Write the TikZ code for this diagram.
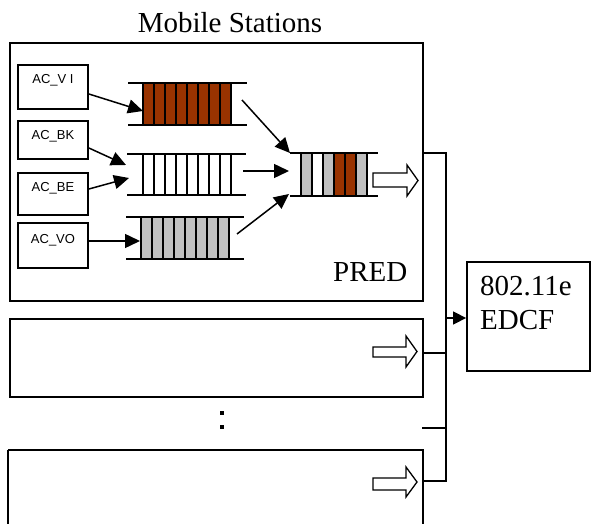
\documentclass[tikz,border=0pt]{standalone}
\usepackage{fontspec}
\setmainfont{Liberation Serif}
\newfontfamily\arialfont{Liberation Sans}
\usetikzlibrary{arrows.meta}
\definecolor{qbrown}{HTML}{993300}
\definecolor{qgray}{HTML}{C0C0C0}
\begin{document}
\begin{tikzpicture}[x=1pt,y=-1pt,
  bigbox/.style={draw,line width=1.8pt},
  acbox/.style={draw,line width=1.8pt,minimum width=70pt,minimum height=44pt,inner sep=0pt},
  aclabel/.style={font=\arialfont\fontsize{13pt}{13pt}\selectfont,anchor=base,inner sep=0pt},
  title/.style={font=\fontsize{29pt}{29pt}\selectfont,inner sep=0pt},
  qline/.style={line width=1.8pt},
  cell/.style={draw,line width=1.7pt},
  flow/.style={line width=1.5pt,-{Triangle[length=15pt,width=14pt]}},
  bus/.style={line width=1.5pt},
  blockarrow/.style={draw,line width=1.3pt,fill=white,line join=miter}
]
\useasboundingbox (0,0) rectangle (592,524);

% title
\node[title,anchor=base] (ttl) at (230,33) {Mobile Stations};

% big boxes
\draw[bigbox] (10,43) rectangle (423,301);
\draw[bigbox] (10,319) rectangle (423,397);
\draw[bigbox] (8,450) -- (423,450) -- (423,526);
\draw[bigbox] (8,526) -- (8,450);
\node[title,anchor=base west] (pred) at (333,281) {PRED};

% AC boxes
\node[acbox] (vi) at (53,87) {};
\node[aclabel] (vil) at (53,84) {AC\_V I};
\node[acbox,minimum height=38pt] (bk) at (53,140) {};
\node[aclabel] (bkl) at (53,140) {AC\_BK};
\node[acbox,minimum height=42pt] (be) at (53,194) {};
\node[aclabel] (bel) at (53,191) {AC\_BE};
\node[acbox,minimum height=45pt] (vo) at (53,245.5) {};
\node[aclabel] (vol) at (53,243) {AC\_VO};

% queue 1 (brown)
\foreach \i in {0,...,7} \draw[cell,fill=qbrown] (143+\i*11,83) rectangle (154+\i*11,125);
\draw[qline] (128,83) -- (247,83);
\draw[qline] (128,125) -- (247,125);
\coordinate (q1in) at (143,111);
\coordinate (q1out) at (242,100);
% queue 2 (white)
\foreach \i in {0,...,7} \draw[cell,fill=white] (143+\i*11,154) rectangle (154+\i*11,195);
\draw[qline] (127,154) -- (246,154);
\draw[qline] (127,195) -- (246,195);
\coordinate (q2inA) at (126,165);
\coordinate (q2inB) at (129,178);
\coordinate (q2out) at (243,171);
% queue 3 (gray)
\foreach \i in {0,...,7} \draw[cell,fill=qgray] (141+\i*11,217) rectangle (152+\i*11,259);
\draw[qline] (126,217) -- (244,217);
\draw[qline] (126,259) -- (244,259);
\coordinate (q3in) at (140,241);
\coordinate (q3out) at (237,234);

% output queue
\foreach \c [count=\i from 0] in {qgray,white,qgray,qbrown,qbrown,qgray}
  \draw[cell,fill=\c] (301+\i*11,153) rectangle (312+\i*11,196);
\draw[qline] (290,153) -- (378,153);
\draw[qline] (290,196) -- (378,196);
\coordinate (oinA) at (290,153);
\coordinate (oinB) at (289,171);
\coordinate (oinC) at (289,194);

% flows
\draw[flow] (vi.east |- 0,94) -- (q1in);
\draw[flow] (bk.east |- 0,148) -- (q2inA);
\draw[flow] (be.east |- 0,189) -- (q2inB);
\draw[flow] (vo.east |- 0,241) -- (q3in);
\draw[flow] (q1out) -- (oinA);
\draw[flow] (q2out) -- (oinB);
\draw[flow] (q3out) -- (oinC);

% block arrows
\draw[blockarrow] (373,173) -- (407,173) -- (407,165) -- (418,180.5) -- (407,196) -- (407,187) -- (373,187) -- cycle;
\draw[blockarrow] (373,347) -- (406,347) -- (406,336) -- (417,351.5) -- (406,367) -- (406,357) -- (373,357) -- cycle;
\draw[blockarrow] (373,478) -- (406,478) -- (406,467) -- (417,482) -- (406,497) -- (406,490) -- (373,490) -- cycle;

% colon
\fill (220,411) rectangle (224,415);
\fill (220,425) rectangle (224,429);

% EDCF box
\node[draw,line width=1.8pt,minimum width=123pt,minimum height=109pt,inner sep=0pt] (edcf) at (528.5,316.5) {};
\node[title,anchor=base west] (e1) at (480,295) {802.11e};
\node[title,anchor=base west] (e2) at (480,329) {EDCF};

% bus
\coordinate (b1) at (446,153);
\coordinate (b2) at (446,353);
\coordinate (b3) at (446,428);
\coordinate (b4) at (446,481);
\coordinate (bm) at (446,318);
\draw[bus] (423,153) -- (b1) -- (b4) -- (423,481);
\draw[bus] (423,353) -- (b2);
\draw[bus] (422,428) -- (b3);
\draw[line width=1.5pt,-{Triangle[length=13pt,width=13pt]}] (bm) -- (edcf.west |- bm);
\end{tikzpicture}
\end{document}
